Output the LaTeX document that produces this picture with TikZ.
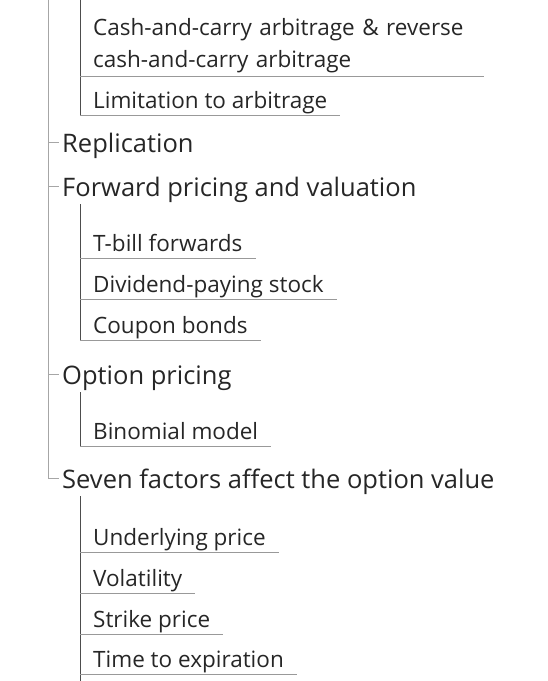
\documentclass[tikz,border=0pt]{standalone}
\usepackage{fontspec}
\setmainfont{Open Sans}
\definecolor{ink}{HTML}{262626}
\definecolor{trunkgray}{HTML}{A6A6A6}
\definecolor{stemgray}{HTML}{4D4D4D}
\definecolor{rulegray}{HTML}{999999}
\tikzset{
  topic/.style={anchor=base west, inner xsep=3pt, inner ysep=8pt, text height=20pt, text depth=0pt, text=ink, font=\fontsize{25.5}{30}\selectfont},
  leaf/.style={anchor=base west, inner xsep=13pt, inner ysep=3pt, text height=15pt, text depth=4pt, text=ink, font=\fontsize{22.5}{32}\selectfont},
  trunk/.style={draw=trunkgray, line width=1pt},
  stem/.style={draw=stemgray, line width=1pt},
  rule/.style={draw=rulegray, line width=1pt}
}
\begin{document}
\begin{tikzpicture}[x=1pt,y=-1pt]
\useasboundingbox (0,0) rectangle (548,681);
% skeleton
\coordinate (top) at (48,0);
\coordinate (sub) at (80,0);
\coordinate (bot) at (80,681);
% main topics
\node[topic] (repl) at (59,152) {Replication};
\node[topic] (fwd) at (59,196) {Forward pricing and valuation};
\node[topic] (opt) at (59,384) {Option pricing};
\node[topic] (seven) at (59,488) {Seven factors affect the option value};
% arbitrage
\node[leaf, anchor=south west, text height=, text depth=, text width=378pt, align=left] (carry) at (80,76) {Cash-and-carry arbitrage \& reverse\\cash-and-carry arbitrage};
\node[leaf] (lim) at (80,108) {Limitation to arbitrage};
% forwards
\node[leaf] (tbill) at (80,251) {T-bill forwards};
\node[leaf] (div) at (80,292) {Dividend-paying stock};
\node[leaf] (coupon) at (80,333) {Coupon bonds};
% options
\node[leaf] (binom) at (80,439) {Binomial model};
% factors
\node[leaf] (under) at (80,545) {Underlying price};
\node[leaf] (vol) at (80,586) {Volatility};
\node[leaf] (strike) at (80,627) {Strike price};
\node[leaf] (time) at (80,667) {Time to expiration};
% lines
\draw[trunk] (top) |- (seven.west);
\foreach \n in {repl,fwd,opt}
  \draw[trunk] (\n.west -| top) -- (\n.west);
\draw[stem] (sub) -- (lim.south west);
\draw[stem] (fwd.south west -| sub) -- (coupon.south west);
\draw[stem] (opt.south west -| sub) -- (binom.south west);
\draw[stem] (seven.south west -| sub) -- (bot);
\foreach \n in {carry,lim,tbill,div,coupon,binom,under,vol,strike,time}
  \draw[rule] (\n.south west) -- (\n.south east);
\end{tikzpicture}
\end{document}
